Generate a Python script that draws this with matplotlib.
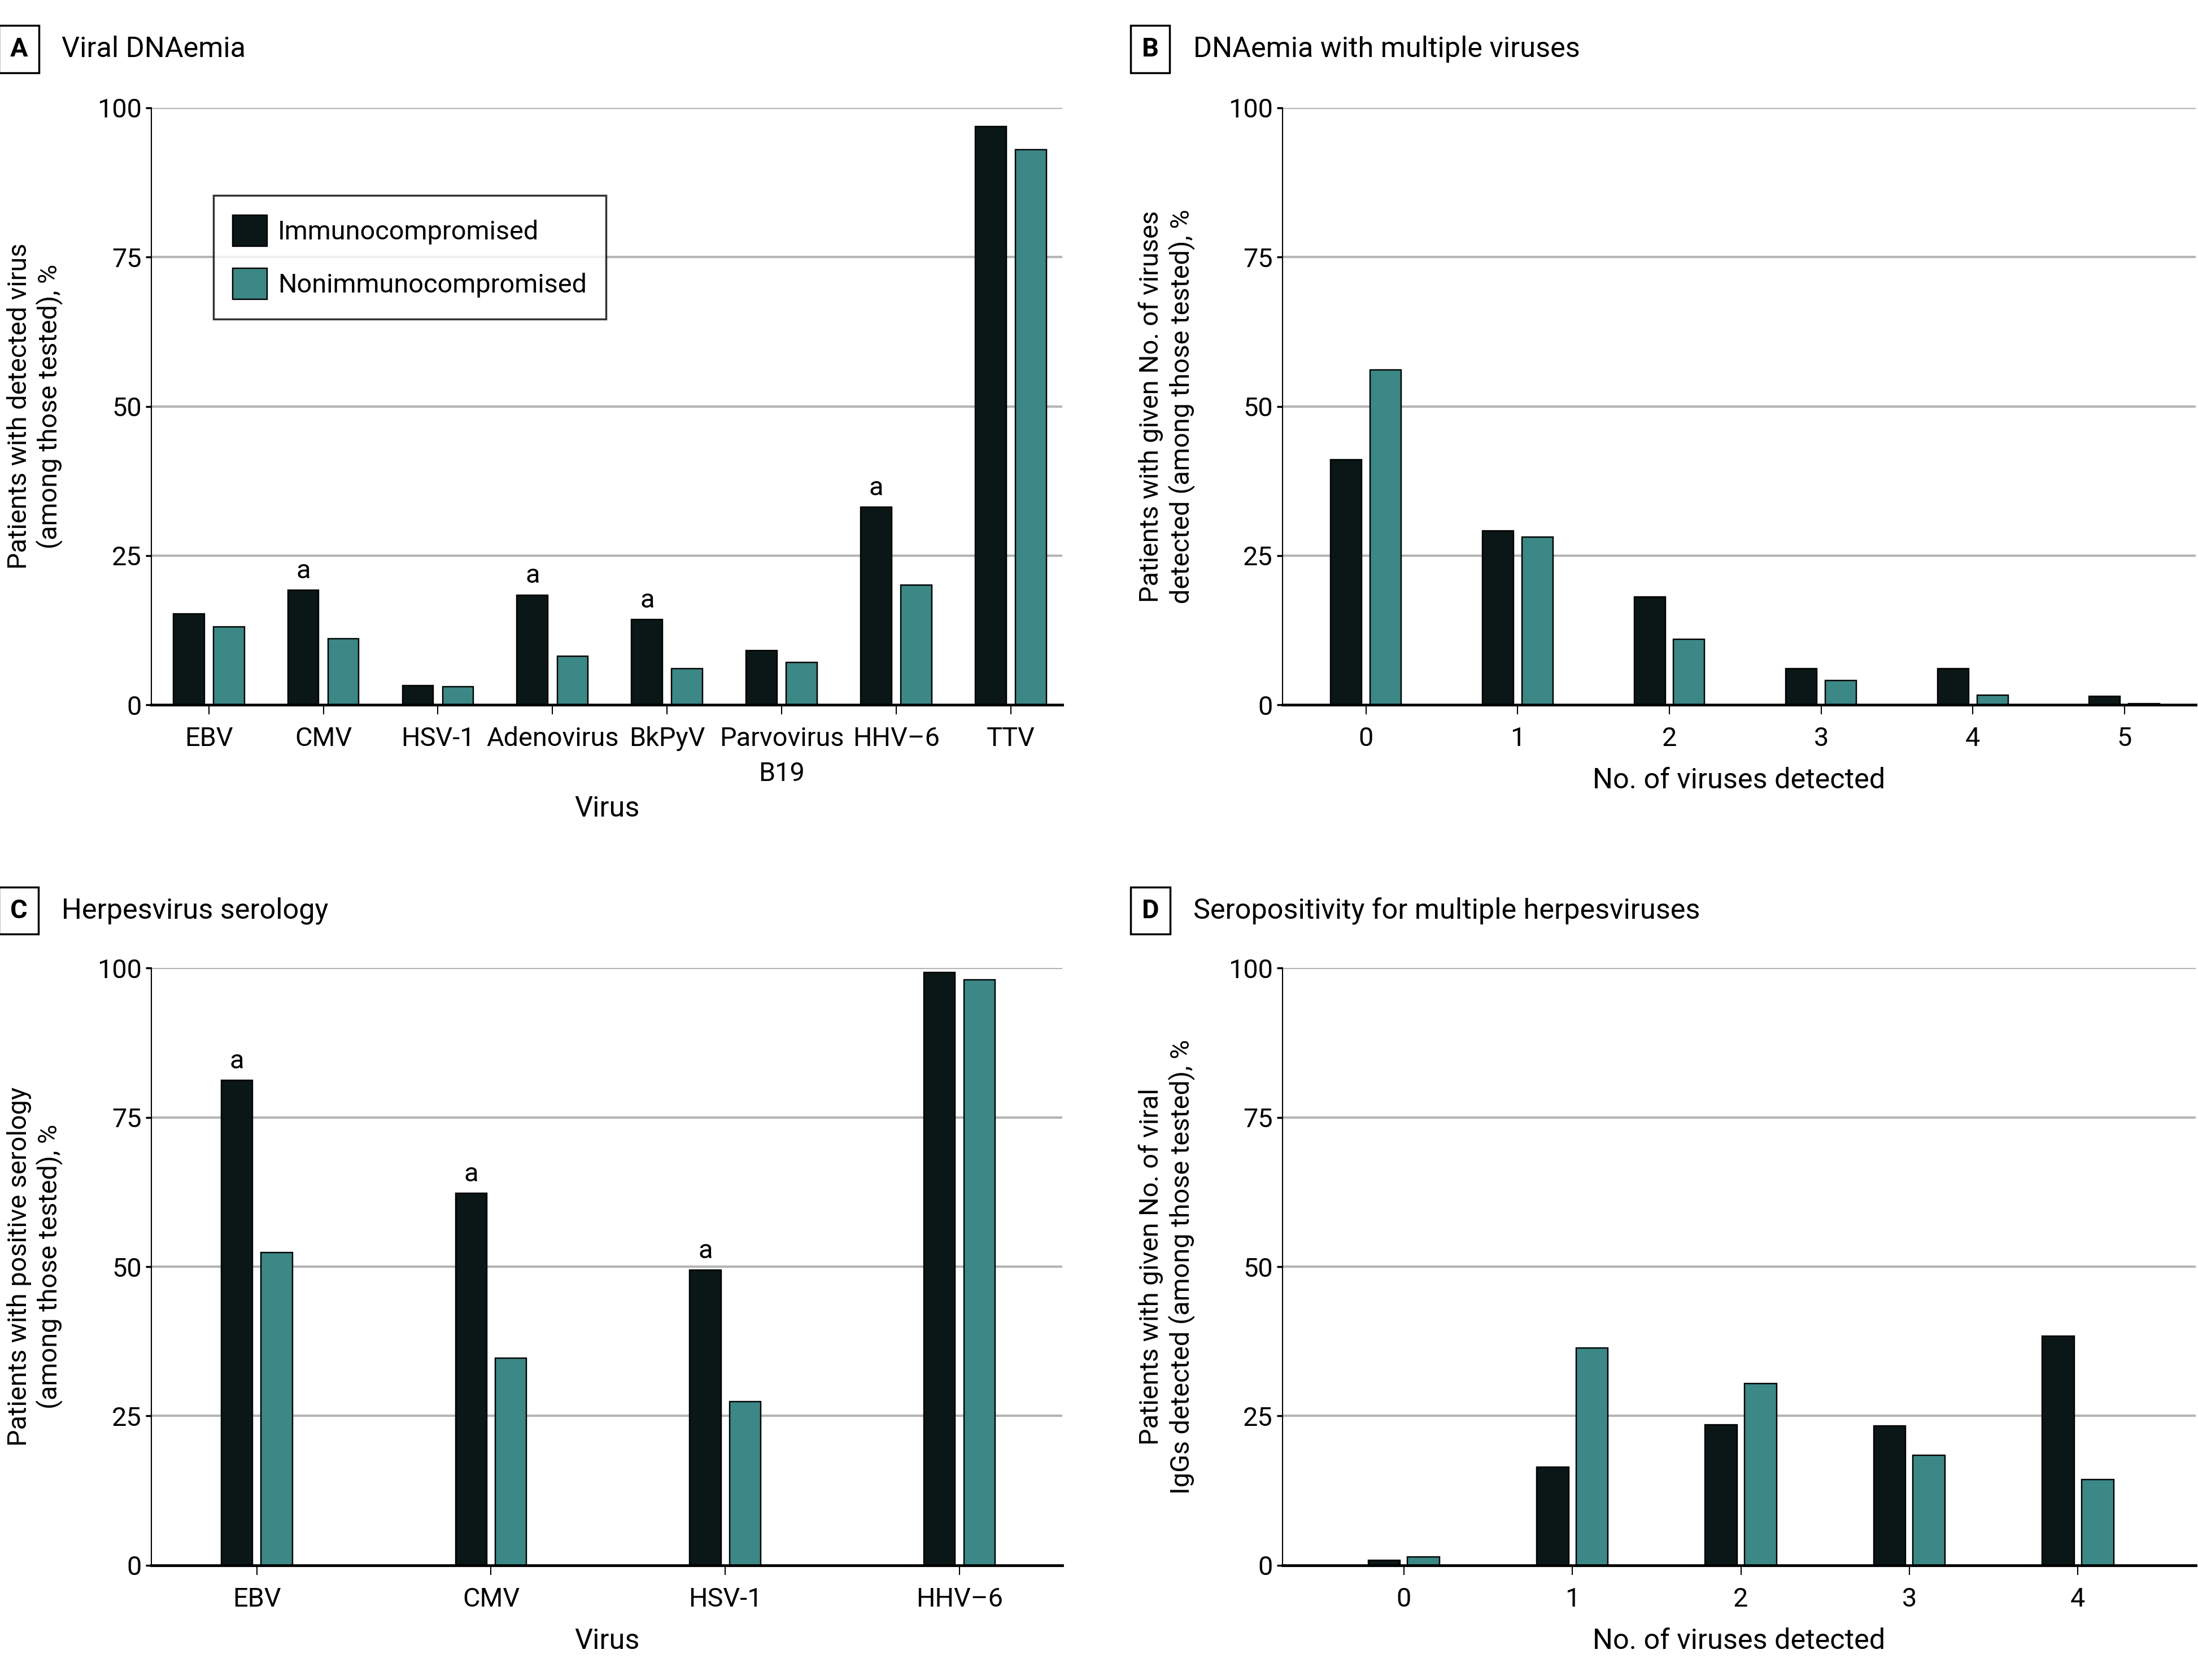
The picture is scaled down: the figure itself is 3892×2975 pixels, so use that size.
import matplotlib
matplotlib.use("Agg")
import matplotlib.pyplot as plt
import numpy as np

plt.rcParams['font.family'] = ['Liberation Sans Narrow', 'Roboto', 'DejaVu Sans']

IMMUNO_COLOR = "#0a1716"
NONIMMUNO_COLOR = "#3b8886"
GRID_COLOR = "#b5b5b5"

# Panel A - viral DNAemia
viruses_a = ["EBV", "CMV", "HSV-1", "Adenovirus", "BkPyV", "Parvovirus\nB19", "HHV\u20136", "TTV"]
immuno_a = [15.2, 19.2, 3.2, 18.4, 14.3, 9.1, 33.1, 96.9]
nonimmuno_a = [13.1, 11.1, 3.0, 8.1, 6.1, 7.05, 20.1, 93.0]
flag_a = [False, True, False, True, True, False, True, False]

# Panel B - DNAemia with multiple viruses
counts_b = ["0", "1", "2", "3", "4", "5"]
immuno_b = [41.1, 29.1, 18.1, 6.1, 6.1, 1.4]
nonimmuno_b = [56.1, 28.1, 11.0, 4.05, 1.6, 0.15]

# Panel C - herpesvirus serology
viruses_c = ["EBV", "CMV", "HSV-1", "HHV\u20136"]
immuno_c = [81.2, 62.3, 49.4, 99.3]
nonimmuno_c = [52.4, 34.7, 27.4, 98.1]
flag_c = [True, True, True, False]

# Panel D - seropositivity for multiple herpesviruses
counts_d = ["0", "1", "2", "3", "4"]
immuno_d = [0.76, 16.4, 23.5, 23.35, 38.4]
nonimmuno_d = [1.35, 36.4, 30.4, 18.4, 14.3]

FS = 13.5


def draw_panel(ax, labels, immuno, nonimmuno, width, offset, xlim, flags=None):
    x = np.arange(len(labels))
    ax.bar(x - offset, immuno, width, color=IMMUNO_COLOR, edgecolor="black",
           linewidth=0.7, zorder=3, label="Immunocompromised")
    ax.bar(x + offset, nonimmuno, width, color=NONIMMUNO_COLOR, edgecolor="black",
           linewidth=0.7, zorder=3, label="Nonimmunocompromised")
    if flags is not None:
        for xi, v, f in zip(x, immuno, flags):
            if f:
                ax.annotate("a", (xi - offset, v), xytext=(0, 3.5), textcoords="offset points",
                            ha="center", va="bottom", fontsize=FS)
    ax.set_xlim(*xlim)
    ax.set_ylim(0, 100)
    ax.set_yticks([0, 25, 50, 75, 100])
    ax.set_xticks(x)
    ax.set_xticklabels(labels, fontsize=FS, linespacing=1.5)
    ax.tick_params(axis="y", labelsize=FS, length=3, width=1.0, pad=2)
    ax.tick_params(axis="x", length=5, width=0.6, pad=6)
    for yv in [25, 50, 75, 100]:
        ax.axhline(yv, color=GRID_COLOR, linewidth=1.2, zorder=1)
    ax.spines["top"].set_visible(False)
    ax.spines["right"].set_visible(False)
    ax.spines["left"].set_linewidth(0.6)
    ax.spines["bottom"].set_linewidth(1.4)
    ax.spines["bottom"].set_zorder(4)


def panel_title(fig, x, y, letter, title):
    fig.text(x, y, letter, fontsize=FS, fontweight="bold", va="center", ha="left",
             bbox=dict(boxstyle="square,pad=0.42", facecolor="white", edgecolor="black", linewidth=1.0))
    fig.text(x + 0.0235, y, title, fontsize=FS + 1, va="center", ha="left")


fig = plt.figure(figsize=(15.568, 11.9), dpi=250)

ax_a = fig.add_axes([0.0689, 0.5805, 0.4145, 0.3553])
ax_b = fig.add_axes([0.5835, 0.5805, 0.4155, 0.3553])
ax_c = fig.add_axes([0.0689, 0.0684, 0.4145, 0.3553])
ax_d = fig.add_axes([0.5835, 0.0684, 0.4155, 0.3553])

draw_panel(ax_a, viruses_a, immuno_a, nonimmuno_a, 0.27, 0.175, (-0.5, 7.45), flag_a)
draw_panel(ax_b, counts_b, immuno_b, nonimmuno_b, 0.205, 0.13, (-0.55, 5.47))
draw_panel(ax_c, viruses_c, immuno_c, nonimmuno_c, 0.133, 0.085, (-0.45, 3.44), flag_c)
draw_panel(ax_d, counts_d, immuno_d, nonimmuno_d, 0.19, 0.117, (-0.72, 4.7))

ax_a.set_ylabel("Patients with detected virus\n(among those tested), %", fontsize=FS, va="center")
ax_b.set_ylabel("Patients with given No. of viruses\ndetected (among those tested), %", fontsize=FS, va="center")
ax_c.set_ylabel("Patients with positive serology\n(among those tested), %", fontsize=FS, va="center")
ax_d.set_ylabel("Patients with given No. of viral\nIgGs detected (among those tested), %", fontsize=FS, va="center")
for ax in [ax_a, ax_c]:
    ax.yaxis.set_label_coords(-0.128, 0.5)
for ax in [ax_b, ax_d]:
    ax.yaxis.set_label_coords(-0.127, 0.5)

ax_a.set_xlabel("Virus", fontsize=FS + 1)
ax_b.set_xlabel("No. of viruses detected", fontsize=FS + 1)
ax_c.set_xlabel("Virus", fontsize=FS + 1)
ax_d.set_xlabel("No. of viruses detected", fontsize=FS + 1)
ax_a.xaxis.set_label_coords(0.5, -0.174)
for ax in [ax_b, ax_c, ax_d]:
    ax.xaxis.set_label_coords(0.5, -0.127)
for ax in [ax_a, ax_b, ax_c, ax_d]:
    ax.xaxis.label.set_va("center")

leg = ax_a.legend(loc="upper left", bbox_to_anchor=(0.068, 0.853), fontsize=FS,
                  frameon=True, fancybox=False, edgecolor="black", handlelength=1.3,
                  handleheight=1.45, handletextpad=0.4, borderpad=0.73, labelspacing=0.82,
                  borderaxespad=0)
leg.get_frame().set_linewidth(1.0)

panel_title(fig, 0.0045, 0.9708, "A", "Viral DNAemia")
panel_title(fig, 0.5195, 0.9708, "B", "DNAemia with multiple viruses")
panel_title(fig, 0.0045, 0.4579, "C", "Herpesvirus serology")
panel_title(fig, 0.5195, 0.4579, "D", "Seropositivity for multiple herpesviruses")

fig.savefig("out.png", dpi=250, facecolor="white")
